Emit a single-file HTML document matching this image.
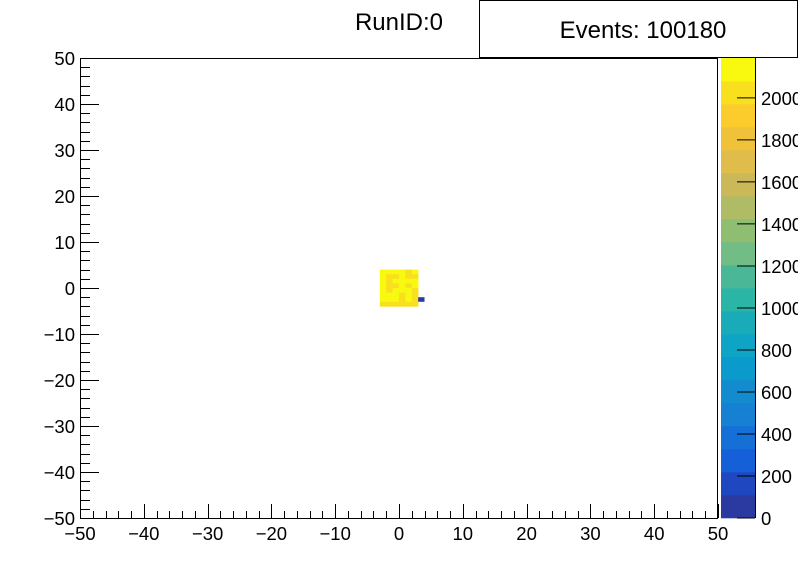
<!DOCTYPE html>
<html><head><meta charset="utf-8"><style>
html,body{margin:0;padding:0;background:#fff;}
svg{display:block;font-family:"Liberation Sans",sans-serif;}
</style></head><body>
<svg id="c" width="798" height="576">
<rect x="0" y="0" width="798" height="576" fill="#fff"/>
<text x="399" y="30" font-size="24" text-anchor="middle">RunID:0</text>
<rect x="479.5" y="0.5" width="318" height="57" fill="#fff" stroke="#000"/>
<text x="643" y="38" font-size="24" text-anchor="middle">Events: 100180</text>
<g id="cells"></g>
<g id="pal"></g>
<rect x="80.5" y="58.5" width="637" height="460" fill="none" stroke="#000"/>
<g id="axes"></g>
</svg>
<script>
const xEdges=[-3,-2,-1,0,1,2];
const yRows=[3,2,1,0,-1,-2,-3,-4];
const counts=[
[2150,2150,2100,2100,2050,2100],
[2150,2050,2050,2150,2050,2050],
[2150,2050,2150,2150,2150,2150],
[2150,2050,2050,2150,2050,2150],
[2150,2050,2150,2150,2150,2050],
[2150,2150,2150,2050,2150,2050],
[2150,2150,2150,2050,2150,2050],
[2050,2050,2050,2050,2050,2050]];
const extraCells=[{x:3,y:-3,v:80}];
const zMax=2190;
const xTicks=[-50,-40,-30,-20,-10,0,10,20,30,40,50];
const yTicks=[-50,-40,-30,-20,-10,0,10,20,30,40,50];
const zTicks=[0,200,400,600,800,1000,1200,1400,1600,1800,2000];
const palette=["#2b3aa0","#1f48c0","#1560d8","#1470d6","#1680d2","#128ccf","#0a9acb","#0ea4c6","#1aabb8","#2bb5a5","#4ab896","#72bd85","#8fbd72","#b0bb66","#cbb858","#e0bc4b","#f0c23a","#fbcc2c","#f8e01e","#f9f90f"];
const NS="http://www.w3.org/2000/svg";
const X=v=>80+(v+50)*6.38, Y=v=>518-(v+50)*4.6, Z=v=>518-v/zMax*460;
function mk(t,a,p){const e=document.createElementNS(NS,t);for(const k in a)e.setAttribute(k,a[k]);p.appendChild(e);return e;}
function col(v){let b=Math.floor(v/zMax*20);if(b>19)b=19;if(b<0)b=0;return palette[b];}
const cg=document.getElementById('cells');
counts.forEach((row,i)=>row.forEach((v,j)=>{
 const r=mk('rect',{x:X(xEdges[j]),y:Y(yRows[i]+1),width:X(xEdges[j]+1)-X(xEdges[j])+0.3,height:Y(yRows[i])-Y(yRows[i]+1)+0.3,fill:col(v)},cg);
 
 
}));
extraCells.forEach(c=>{
 const r=mk('rect',{x:X(c.x),y:Y(c.y+1),width:X(c.x+1)-X(c.x),height:Y(c.y)-Y(c.y+1),fill:col(c.v)},cg);
 
 
});
const pg=document.getElementById('pal');
palette.forEach((c,i)=>{
 const r=mk('rect',{x:721,y:518-(i+1)*23,width:34,height:23.3,fill:c},pg);
 
 
});
const pf=mk('line',{x1:755.5,y1:58,x2:755.5,y2:518,stroke:'#000'},pg);


zTicks.forEach(v=>{
 const y=Z(v);
 const l=mk('line',{x1:737,y1:y,x2:755,y2:y,stroke:'#000'},pg);
 
 
 const t=mk('text',{x:761,y:y+7,'font-size':18.5},pg);t.textContent=v;
 
 
});
const ag=document.getElementById('axes');
for(let v=-50;v<=50;v+=2){
 const major=v%10===0;
 const x=Math.round(X(v))+0.5;
 const l=mk('line',{x1:x,y1:518,x2:x,y2:518-(major?14:7),stroke:'#000'},ag);
 
 
 const y=Math.round(Y(v))+0.5;
 const m=mk('line',{x1:80,y1:y,x2:80+(major?19:10),y2:y,stroke:'#000'},ag);
 
 
}
xTicks.forEach(v=>{
 const t=mk('text',{x:X(v),y:540,'font-size':18.5,'text-anchor':'middle'},ag);t.textContent=v<0?'\u2212'+(-v):v;
 
 
});
yTicks.forEach(v=>{
 const t=mk('text',{x:75,y:Y(v)+7,'font-size':18.5,'text-anchor':'end'},ag);t.textContent=v<0?'\u2212'+(-v):v;
 
 
});
</script>
</body></html>
